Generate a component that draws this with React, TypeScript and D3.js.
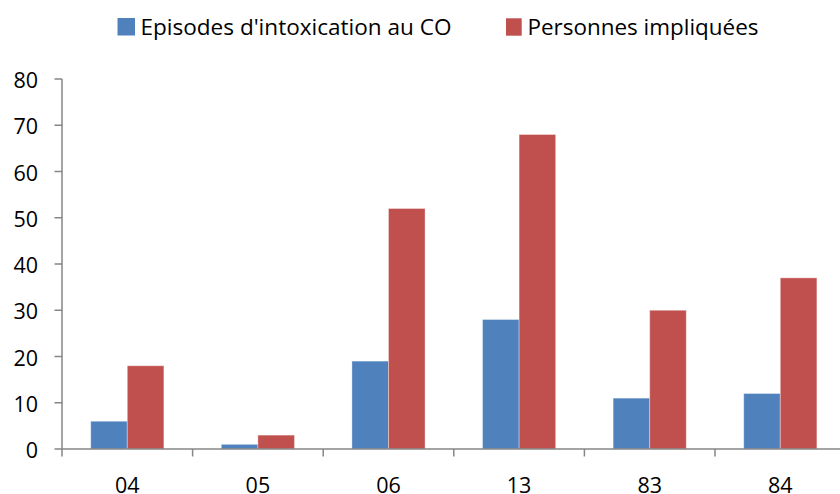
import React from "react";
import * as d3 from "d3";

const categories = ["04", "05", "06", "13", "83", "84"];
const seriesNames = ["Episodes d'intoxication au CO", "Personnes impliquées"];
const episodes = [6, 1, 19, 28, 11, 12];
const personnes = [18, 3, 52, 68, 30, 37];
const yTicks = [0, 10, 20, 30, 40, 50, 60, 70, 80];
const colors = ["#4F81BD", "#C0504D"];

export default function App() {
  const W = 840, H = 494;
  const x = d3.scaleBand<string>().domain(categories).range([62, 845.6]).padding(0);
  const bw = x.bandwidth();
  const x1 = d3.scaleBand<string>().domain(seriesNames).range([bw * 0.22, bw * 0.78]).padding(0);
  const y = d3.scaleLinear().domain([0, 80]).range([449, 79]);
  const series = [episodes, personnes];
  const font = "'Open Sans', sans-serif";
  const axisColor = "#868686";
  return (
    <svg width={W} height={H} style={{ position: "absolute", left: 0, top: 0, background: "#fff" }} fontFamily={font}>
      {/* legend */}
      <g>
        <rect x={117.5} y={18} width={17.5} height={17.5} fill={colors[0]} />
        <text x={140.5} y={34.5} fontSize={21.5} fill="#000" textLength={311} lengthAdjust="spacingAndGlyphs">{seriesNames[0]}</text>
        <rect x={506} y={18.3} width={15.7} height={17.4} fill={colors[1]} />
        <text x={527.5} y={34.5} fontSize={21.5} fill="#000" textLength={231} lengthAdjust="spacingAndGlyphs">{seriesNames[1]}</text>
      </g>
      {/* bars */}
      {series.map((vals, si) =>
        vals.map((v, i) => (
          <rect
            key={`${si}-${i}`}
            x={(x(categories[i]) as number) + (x1(seriesNames[si]) as number)}
            y={y(v)}
            width={x1.bandwidth()}
            height={y(0) - y(v)}
            fill={colors[si]}
            stroke="#ffffff"
            strokeOpacity={0.35}
            strokeWidth={1}
          />
        ))
      )}
      {/* y axis */}
      <line x1={62} x2={62} y1={y(80)} y2={y(0)} stroke={axisColor} strokeWidth={1.5} />
      {yTicks.map((t) => (
        <g key={t}>
          <line x1={54.5} x2={62} y1={y(t)} y2={y(t)} stroke={axisColor} strokeWidth={1.5} />
          <text x={38} y={y(t) + 1.5} dy="0.36em" textAnchor="end" fontSize={21.5} fill="#000">{t}</text>
        </g>
      ))}
      {/* x axis */}
      <line x1={62} x2={845.6} y1={y(0)} y2={y(0)} stroke={axisColor} strokeWidth={1.5} />
      {categories.map((c) => (
        <g key={c}>
          <line x1={x(c) as number} x2={x(c) as number} y1={y(0)} y2={y(0) + 7.5} stroke={axisColor} strokeWidth={1.5} />
          <text x={(x(c) as number) + bw / 2} y={492.5} textAnchor="middle" fontSize={21.5} fill="#000">{c}</text>
        </g>
      ))}
    </svg>
  );
}
